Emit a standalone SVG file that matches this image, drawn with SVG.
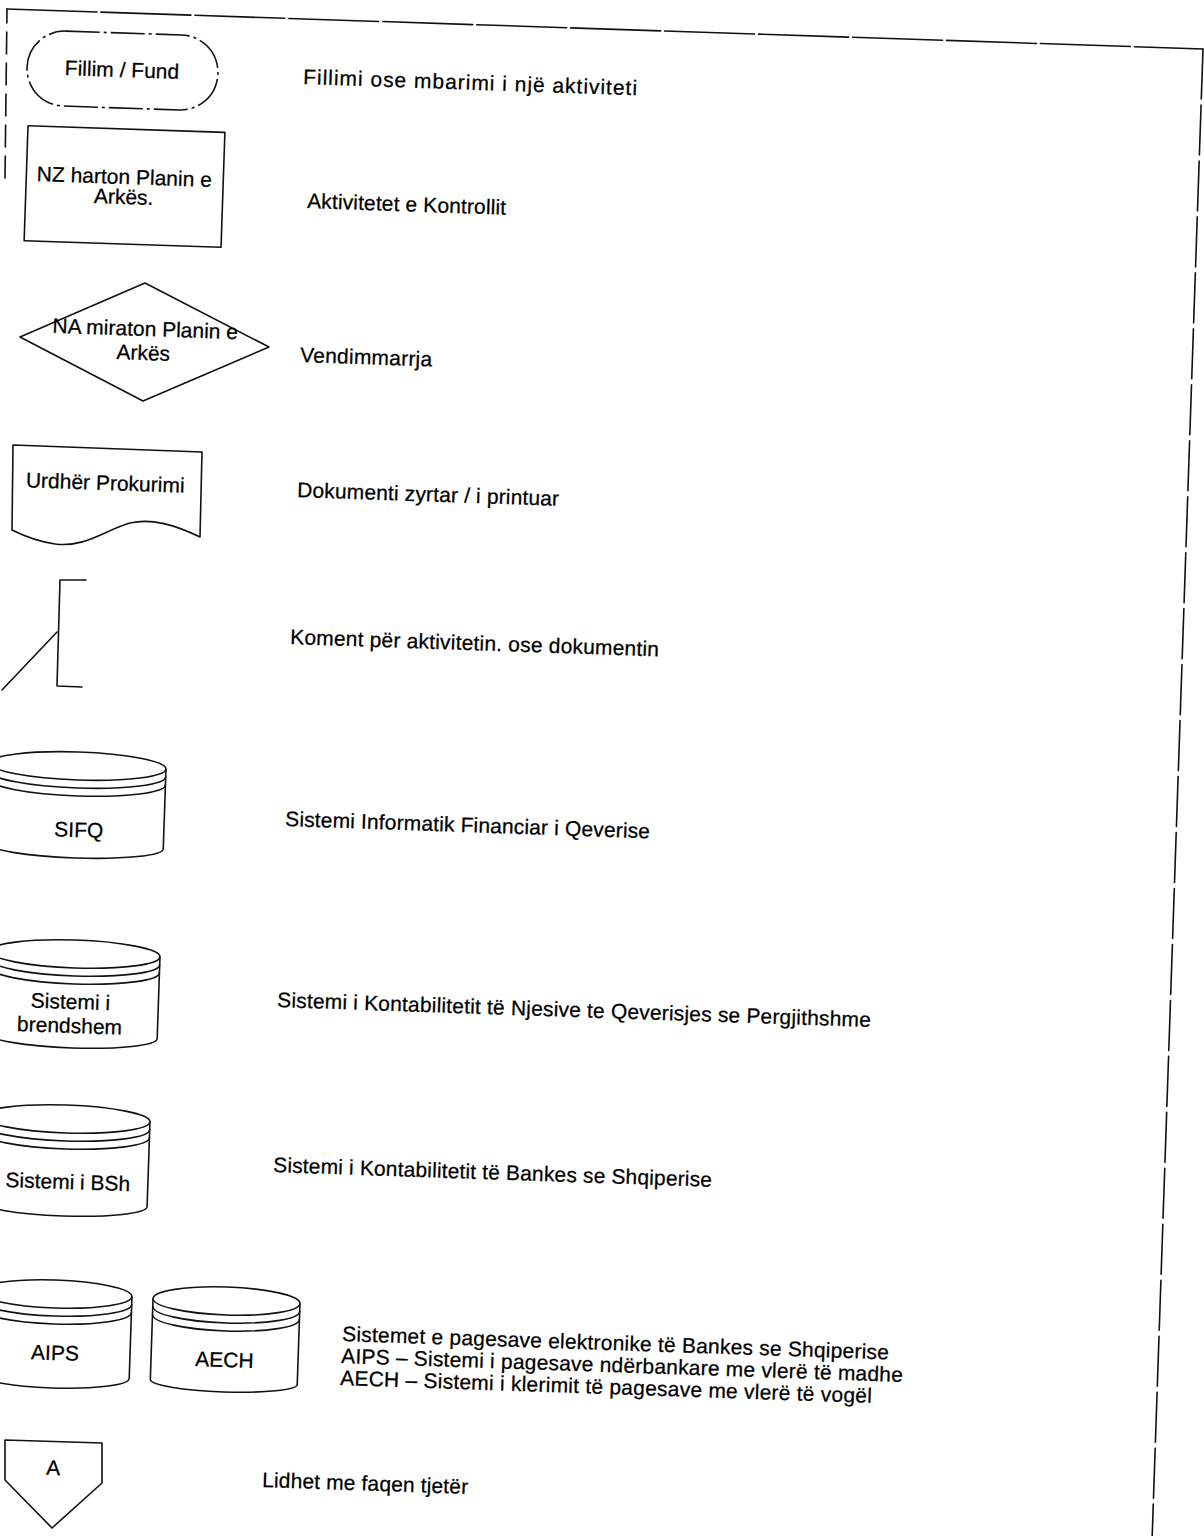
<svg xmlns="http://www.w3.org/2000/svg" width="1204" height="1536" viewBox="0 0 1204 1536">
  <style>
    .ln { fill: none; stroke: #111; stroke-width: 1.6; stroke-linejoin: round; stroke-linecap: round; }
    .sh { fill: #fff; stroke: #111; stroke-width: 1.6; stroke-linejoin: round; }
    .tx { font-family: "Liberation Sans", Arial, sans-serif; font-size: 21px; fill: #000; stroke: #000; stroke-width: 0.25; }
    .c { text-anchor: middle; }
  </style>

  <!-- page frame -->
  <g id="frame">
    <polyline class="ln" points="5,178 7,9" stroke-dasharray="22 9"/>
    <line class="ln" x1="7" y1="9" x2="1203" y2="49" stroke-dasharray="90 4"/>
    <line class="ln" x1="1203" y1="49" x2="1150" y2="1600" stroke-dasharray="50 6"/>
  </g>

  <!-- terminator -->
  <g id="node-terminator" transform="rotate(1.93 122 70)">
    <rect class="sh" x="27" y="33" width="191" height="75" rx="37.5" stroke-dasharray="34 4 3 4"/>
    <text class="tx c" x="122" y="77">Fillim / Fund</text>
  </g>

  <!-- process -->
  <g id="node-process" transform="rotate(1.93 124 187)">
    <rect class="sh" x="26" y="129" width="197" height="115"/>
    <text class="tx c" x="124" y="184">NZ harton Planin e</text>
    <text class="tx c" x="124" y="204">Arkës.</text>
  </g>

  <!-- decision -->
  <g id="node-decision">
    <polygon class="sh" points="145,283 269,347 143,401 20,337"/>
    <text class="tx c" x="145" y="336" transform="rotate(1.93 145 336)">NA miraton Planin e</text>
    <text class="tx c" x="143" y="360" transform="rotate(1.93 143 360)">Arkës</text>
  </g>

  <!-- document -->
  <g id="node-document">
    <path class="sh" d="M12,530 L13,445 L202,452 L200,537 C175,525 152,518 130,523 C105,530 85,548 55,544 C35,541 22,535 12,530 Z"/>
    <text class="tx c" x="105" y="490" transform="rotate(1.93 105 490)">Urdhër Prokurimi</text>
  </g>

  <!-- annotation -->
  <g id="node-comment">
    <polyline class="ln" points="86,580 60,580 57,686 82,687"/>
    <line class="ln" x1="57" y1="632" x2="2" y2="690"/>
  </g>

  <!-- data stores -->
  <g id="node-sifq" transform="translate(78 766) rotate(1.93)">
    <path class="sh" d="M-88,0 L-88,80 A88 12 0 0 0 88,80 L88,0"/>
    <ellipse class="sh" cx="0" cy="0" rx="88" ry="14"/>
    <path class="ln" d="M-88,8 A88 14 0 0 0 88,8 M-88,16 A88 14 0 0 0 88,16"/>
    <text class="tx c" x="3" y="71">SIFQ</text>
  </g>

  <g id="node-internal" transform="translate(75 954) rotate(1.93)">
    <path class="sh" d="M-85,0 L-85,82 A85 12 0 0 0 85,82 L85,0"/>
    <ellipse class="sh" cx="0" cy="0" rx="85" ry="14"/>
    <path class="ln" d="M-85,8 A85 14 0 0 0 85,8 M-85,16 A85 14 0 0 0 85,16"/>
    <text class="tx c" x="-3" y="55">Sistemi i</text>
    <text class="tx c" x="-3" y="79">brendshem</text>
  </g>

  <g id="node-bsh" transform="translate(66 1119) rotate(1.93)">
    <path class="sh" d="M-84,0 L-84,85 A84 12 0 0 0 84,85 L84,0"/>
    <ellipse class="sh" cx="0" cy="0" rx="84" ry="14"/>
    <path class="ln" d="M-84,8 A84 14 0 0 0 84,8 M-84,16 A84 14 0 0 0 84,16"/>
    <text class="tx c" x="4" y="70">Sistemi i BSh</text>
  </g>

  <g id="node-aips" transform="translate(55 1294) rotate(1.93)">
    <path class="sh" d="M-77,0 L-77,82 A77 12 0 0 0 77,82 L77,0"/>
    <ellipse class="sh" cx="0" cy="0" rx="77" ry="14"/>
    <path class="ln" d="M-77,8 A77 14 0 0 0 77,8 M-77,16 A77 14 0 0 0 77,16"/>
    <text class="tx c" x="2" y="66">AIPS</text>
  </g>

  <g id="node-aech" transform="translate(226.5 1301) rotate(1.93)">
    <path class="sh" d="M-73.5,0 L-73.5,81 A73.5 10 0 0 0 73.5,81 L73.5,0"/>
    <ellipse class="sh" cx="0" cy="0" rx="73.5" ry="14"/>
    <path class="ln" d="M-73.5,8 A73.5 14 0 0 0 73.5,8 M-73.5,16 A73.5 14 0 0 0 73.5,16"/>
    <text class="tx c" x="0" y="66">AECH</text>
  </g>

  <!-- off-page connector -->
  <g id="node-offpage">
    <path class="sh" d="M5,1440 L5,1480 L52,1528 L102,1483 L102,1443 Z"/>
    <text class="tx c" x="53" y="1475" transform="rotate(1.93 53 1475)">A</text>
  </g>

  <!-- legend descriptions -->
  <g id="descriptions" class="tx">
    <text x="303" y="84" textLength="334" lengthAdjust="spacing" transform="rotate(1.93 303 84)">Fillimi ose mbarimi i një aktiviteti</text>
    <text x="307" y="208" textLength="199" lengthAdjust="spacing" transform="rotate(1.93 307 208)">Aktivitetet e Kontrollit</text>
    <text x="300" y="362" textLength="132" lengthAdjust="spacing" transform="rotate(1.93 300 362)">Vendimmarrja</text>
    <text x="297" y="497" textLength="262" lengthAdjust="spacing" transform="rotate(1.93 297 497)">Dokumenti zyrtar / i printuar</text>
    <text x="290" y="644" textLength="369" lengthAdjust="spacing" transform="rotate(1.93 290 644)">Koment për aktivitetin. ose dokumentin</text>
    <text x="285" y="826" textLength="365" lengthAdjust="spacing" transform="rotate(1.93 285 826)">Sistemi Informatik Financiar i Qeverise</text>
    <text x="277" y="1007" textLength="594" lengthAdjust="spacing" transform="rotate(1.93 277 1007)">Sistemi i Kontabilitetit të Njesive te Qeverisjes se Pergjithshme</text>
    <text x="273" y="1172" textLength="439" lengthAdjust="spacing" transform="rotate(1.93 273 1172)">Sistemi i Kontabilitetit të Bankes se Shqiperise</text>
    <text x="342" y="1341" textLength="547" lengthAdjust="spacing" transform="rotate(1.93 342 1341)">Sistemet e pagesave elektronike të Bankes se Shqiperise</text>
    <text x="341" y="1363" textLength="562" lengthAdjust="spacing" transform="rotate(1.93 341 1363)">AIPS – Sistemi i pagesave ndërbankare me vlerë të madhe</text>
    <text x="340" y="1385" textLength="532" lengthAdjust="spacing" transform="rotate(1.93 340 1385)">AECH – Sistemi i klerimit të pagesave me vlerë të vogël</text>
    <text x="262" y="1487" textLength="206" lengthAdjust="spacing" transform="rotate(1.93 262 1487)">Lidhet me faqen tjetër</text>
  </g>
</svg>
